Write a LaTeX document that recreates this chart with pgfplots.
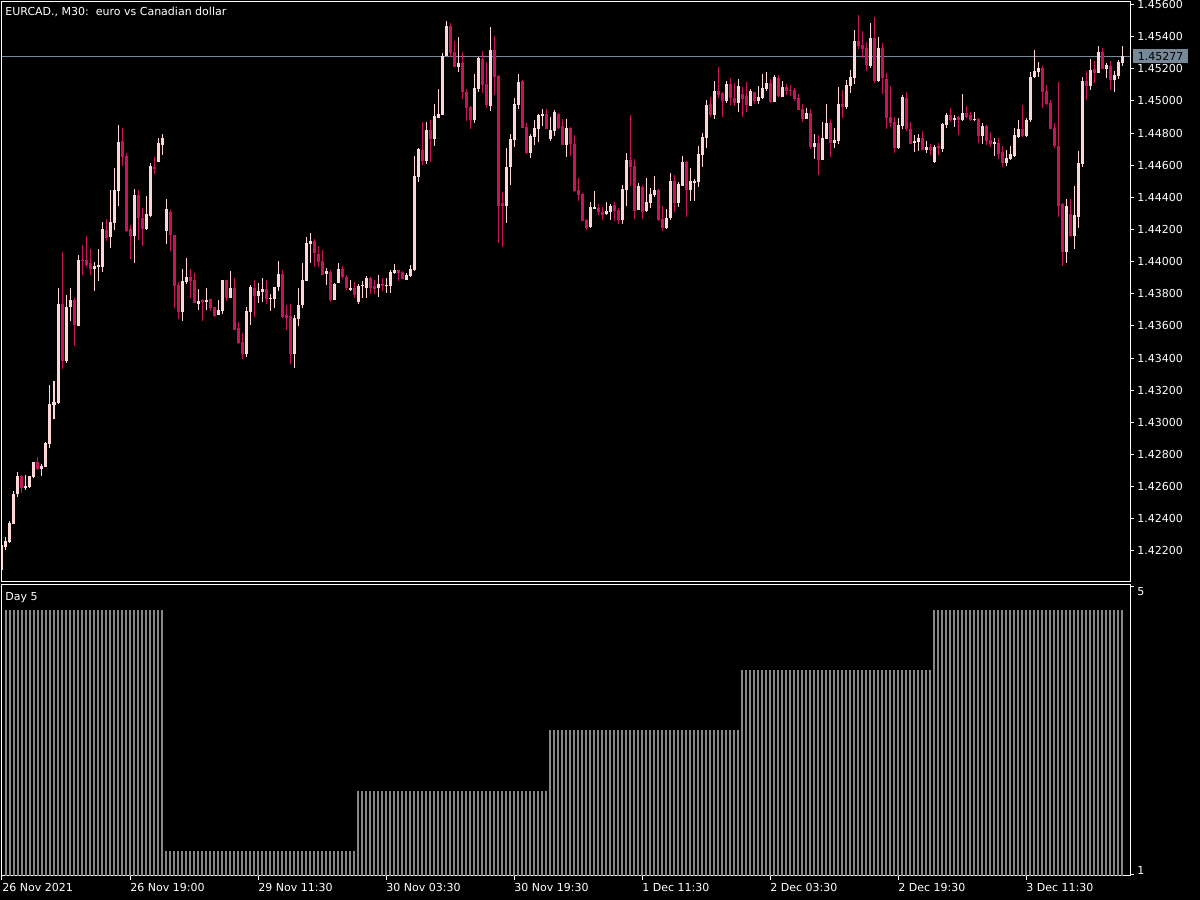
\documentclass[border=0pt]{standalone}
\usepackage{pgfplots}
\pgfplotsset{compat=1.18}
\usepackage{pgfplotstable}
\usepackage{fontspec}
\setmainfont{DejaVu Sans}
\definecolor{bull}{HTML}{FFD6D6}
\definecolor{bear}{HTML}{C8145A}
\definecolor{pline}{HTML}{778899}
\definecolor{hist}{HTML}{888888}

\pgfplotstableread{
i o h l c
-1 1.42082 1.42250 1.42069 1.42237
0 1.42225 1.42287 1.42206 1.42262
1 1.42256 1.42386 1.42250 1.42374
2 1.42368 1.42573 1.42368 1.42554
3 1.42554 1.42691 1.42536 1.42666
5 1.42592 1.42673 1.42579 1.42604
6 1.42598 1.42666 1.42592 1.42666
7 1.42660 1.42755 1.42654 1.42753
9 1.42710 1.42741 1.42666 1.42729
10 1.42722 1.42878 1.42722 1.42872
11 1.42865 1.43233 1.42841 1.43114
12 1.43110 1.43257 1.43021 1.43127
13 1.43121 1.43836 1.43114 1.43737
15 1.43382 1.43793 1.43369 1.43718
16 1.43718 1.43836 1.43631 1.43761
18 1.43600 1.44041 1.43600 1.44010
22 1.43956 1.43998 1.43817 1.43973
23 1.43967 1.44079 1.43880 1.43979
24 1.43967 1.44247 1.43936 1.44203
26 1.44153 1.44446 1.44085 1.44247
27 1.44241 1.44583 1.44197 1.44446
28 1.44440 1.44850 1.44346 1.44745
32 1.44160 1.44452 1.43992 1.44415
35 1.44203 1.44409 1.44197 1.44297
36 1.44284 1.44614 1.44278 1.44595
38 1.44620 1.44769 1.44620 1.44738
39 1.44726 1.44794 1.44664 1.44769
40 1.44191 1.44390 1.44110 1.44328
44 1.43687 1.43954 1.43631 1.43880
45 1.43873 1.44023 1.43861 1.43905
48 1.43737 1.43830 1.43699 1.43755
50 1.43749 1.43836 1.43699 1.43761
53 1.43668 1.43761 1.43668 1.43699
54 1.43693 1.43886 1.43674 1.43886
56 1.43774 1.43942 1.43774 1.43836
60 1.43425 1.43718 1.43407 1.43693
61 1.43687 1.43855 1.43606 1.43842
63 1.43786 1.43867 1.43743 1.43817
64 1.43811 1.43898 1.43749 1.43830
66 1.43768 1.43799 1.43693 1.43774
67 1.43768 1.43842 1.43712 1.43842
68 1.43842 1.44004 1.43817 1.43923
72 1.43425 1.43668 1.43338 1.43649
73 1.43643 1.43836 1.43600 1.43730
74 1.43730 1.43992 1.43712 1.43886
75 1.43880 1.44153 1.43880 1.44116
76 1.44110 1.44178 1.43992 1.44129
80 1.43923 1.43961 1.43855 1.43942
82 1.43761 1.43867 1.43761 1.43861
83 1.43867 1.43992 1.43867 1.43954
86 1.43824 1.43886 1.43817 1.43836
88 1.43749 1.43861 1.43737 1.43849
89 1.43849 1.43880 1.43774 1.43855
90 1.43836 1.43911 1.43774 1.43898
93 1.43836 1.43917 1.43780 1.43861
95 1.43849 1.43898 1.43805 1.43855
96 1.43849 1.43948 1.43805 1.43936
97 1.43929 1.43985 1.43923 1.43948
100 1.43886 1.43929 1.43886 1.43917
101 1.43911 1.43979 1.43905 1.43954
102 1.43948 1.44657 1.43942 1.44533
103 1.44527 1.44707 1.44496 1.44701
105 1.44626 1.44869 1.44608 1.44819
107 1.44763 1.44981 1.44720 1.44906
108 1.44894 1.45074 1.44894 1.44919
109 1.44913 1.45298 1.44913 1.45280
110 1.45280 1.45497 1.45280 1.45466
113 1.45211 1.45398 1.45180 1.45236
117 1.44881 1.45168 1.44863 1.45081
118 1.45074 1.45273 1.45056 1.45267
121 1.44969 1.45460 1.44937 1.45317
125 1.44346 1.44707 1.44241 1.44589
126 1.44589 1.44794 1.44477 1.44763
127 1.44757 1.45018 1.44713 1.44981
128 1.44975 1.45168 1.44950 1.45118
131 1.44676 1.44794 1.44645 1.44782
132 1.44776 1.44881 1.44726 1.44832
133 1.44825 1.44919 1.44745 1.44913
134 1.44906 1.44950 1.44844 1.44919
136 1.44763 1.44900 1.44751 1.44819
137 1.44813 1.44944 1.44782 1.44931
140 1.44726 1.44888 1.44651 1.44832
146 1.44216 1.44371 1.44209 1.44340
147 1.44328 1.44440 1.44328 1.44340
150 1.44297 1.44371 1.44290 1.44315
151 1.44309 1.44359 1.44259 1.44346
154 1.44259 1.44477 1.44234 1.44452
155 1.44446 1.44676 1.44346 1.44633
158 1.44321 1.44489 1.44321 1.44471
160 1.44315 1.44521 1.44309 1.44371
161 1.44365 1.44458 1.44334 1.44421
162 1.44415 1.44533 1.44402 1.44446
165 1.44209 1.44328 1.44203 1.44272
166 1.44272 1.44552 1.44259 1.44502
168 1.44365 1.44496 1.44340 1.44483
169 1.44471 1.44657 1.44471 1.44620
171 1.44446 1.44583 1.44377 1.44502
172 1.44489 1.44514 1.44377 1.44502
173 1.44496 1.44720 1.44465 1.44670
174 1.44664 1.44801 1.44589 1.44776
175 1.44769 1.45006 1.44707 1.44975
177 1.44913 1.45124 1.44888 1.45062
180 1.45000 1.45124 1.44987 1.45105
183 1.44987 1.45137 1.44931 1.45093
186 1.44969 1.45074 1.44969 1.45062
188 1.45000 1.45093 1.44981 1.45025
189 1.45018 1.45168 1.45012 1.45081
190 1.45074 1.45180 1.45062 1.45112
192 1.44993 1.45161 1.44993 1.45149
194 1.45025 1.45124 1.45025 1.45087
200 1.44888 1.44956 1.44888 1.44925
202 1.44713 1.44794 1.44639 1.44738
204 1.44633 1.44869 1.44633 1.44769
205 1.44763 1.44981 1.44763 1.44863
207 1.44738 1.44832 1.44707 1.44757
208 1.44751 1.45087 1.44732 1.44981
210 1.44962 1.45130 1.44950 1.45099
211 1.45093 1.45193 1.45049 1.45149
212 1.45143 1.45441 1.45105 1.45373
216 1.45217 1.45485 1.45205 1.45392
218 1.45124 1.45398 1.45118 1.45329
223 1.44707 1.44894 1.44701 1.44850
224 1.44844 1.45037 1.44825 1.45025
227 1.44738 1.44788 1.44682 1.44751
228 1.44745 1.44794 1.44689 1.44769
230 1.44695 1.44751 1.44676 1.44713
232 1.44620 1.44726 1.44614 1.44713
234 1.44701 1.44863 1.44682 1.44857
235 1.44850 1.44925 1.44832 1.44913
237 1.44881 1.44913 1.44838 1.44894
239 1.44881 1.45043 1.44875 1.44925
242 1.44881 1.44931 1.44875 1.44888
244 1.44782 1.44863 1.44732 1.44844
247 1.44732 1.44769 1.44657 1.44745
250 1.44614 1.44695 1.44595 1.44645
251 1.44639 1.44720 1.44633 1.44670
252 1.44657 1.44832 1.44651 1.44788
253 1.44776 1.44881 1.44769 1.44825
255 1.44782 1.44894 1.44776 1.44881
256 1.44881 1.45180 1.44869 1.45149
257 1.45149 1.45317 1.45143 1.45186
258 1.45180 1.45242 1.45149 1.45205
265 1.44060 1.44390 1.43992 1.44346
267 1.44160 1.44471 1.44079 1.44290
268 1.44278 1.44689 1.44209 1.44614
269 1.44608 1.45149 1.44589 1.45124
271 1.45093 1.45261 1.45068 1.45193
273 1.45174 1.45342 1.45174 1.45305
275 1.45199 1.45236 1.45143 1.45224
277 1.45130 1.45186 1.45056 1.45161
278 1.45155 1.45255 1.45137 1.45242
279 1.45236 1.45342 1.45217 1.45277
}\bulltab

\pgfplotstableread{
i o h l c
4 1.42666 1.42673 1.42561 1.42592
8 1.42753 1.42785 1.42704 1.42710
14 1.43737 1.44060 1.43332 1.43382
17 1.43761 1.43774 1.43475 1.43606
19 1.44010 1.44104 1.43917 1.44004
20 1.44010 1.44160 1.43967 1.43979
21 1.43992 1.44079 1.43917 1.43954
25 1.44197 1.44265 1.44129 1.44147
29 1.44751 1.44832 1.44595 1.44651
30 1.44657 1.44676 1.44185 1.44191
31 1.44203 1.44228 1.44017 1.44160
33 1.44415 1.44446 1.44135 1.44272
34 1.44272 1.44334 1.44097 1.44203
37 1.44589 1.44651 1.44545 1.44577
41 1.44309 1.44321 1.44066 1.44166
42 1.44166 1.44166 1.43712 1.43849
43 1.43855 1.43873 1.43643 1.43687
46 1.43905 1.43954 1.43774 1.43880
47 1.43886 1.43929 1.43743 1.43743
49 1.43761 1.43768 1.43631 1.43749
51 1.43768 1.43768 1.43693 1.43712
52 1.43718 1.43718 1.43656 1.43662
55 1.43886 1.43886 1.43755 1.43774
57 1.43836 1.43898 1.43575 1.43575
58 1.43587 1.43625 1.43488 1.43494
59 1.43500 1.43556 1.43394 1.43425
62 1.43836 1.43886 1.43656 1.43786
65 1.43830 1.43886 1.43737 1.43768
69 1.43923 1.43948 1.43649 1.43656
70 1.43668 1.43730 1.43575 1.43649
71 1.43662 1.43737 1.43363 1.43425
77 1.44129 1.44141 1.43967 1.44054
78 1.44048 1.44097 1.43967 1.43998
79 1.44004 1.44073 1.43917 1.43917
81 1.43936 1.43948 1.43749 1.43761
84 1.43954 1.43973 1.43892 1.43905
85 1.43905 1.43917 1.43824 1.43836
87 1.43836 1.43873 1.43774 1.43793
91 1.43898 1.43905 1.43799 1.43836
92 1.43849 1.43886 1.43799 1.43830
94 1.43861 1.43898 1.43817 1.43849
98 1.43948 1.43948 1.43880 1.43929
99 1.43936 1.43942 1.43892 1.43892
104 1.44695 1.44869 1.44601 1.44626
106 1.44819 1.44881 1.44620 1.44763
111 1.45466 1.45485 1.45273 1.45298
112 1.45305 1.45373 1.45211 1.45211
114 1.45236 1.45305 1.45012 1.45056
115 1.45056 1.45074 1.44875 1.44956
116 1.44962 1.44969 1.44825 1.44881
119 1.45261 1.45311 1.45049 1.45099
120 1.45105 1.45242 1.44956 1.44975
122 1.45317 1.45404 1.45037 1.45149
123 1.45155 1.45161 1.44116 1.44346
124 1.44365 1.44433 1.44091 1.44346
129 1.45124 1.45130 1.44832 1.44832
130 1.44838 1.44863 1.44670 1.44676
135 1.44919 1.44950 1.44825 1.44825
138 1.44919 1.44925 1.44825 1.44832
139 1.44844 1.44888 1.44726 1.44726
141 1.44832 1.44838 1.44657 1.44732
142 1.44732 1.44788 1.44433 1.44440
143 1.44446 1.44521 1.44377 1.44415
144 1.44421 1.44427 1.44253 1.44253
145 1.44259 1.44265 1.44197 1.44209
148 1.44334 1.44359 1.44290 1.44309
149 1.44309 1.44340 1.44259 1.44290
152 1.44353 1.44371 1.44253 1.44315
153 1.44321 1.44334 1.44234 1.44259
156 1.44633 1.44913 1.44471 1.44589
157 1.44595 1.44639 1.44265 1.44315
159 1.44465 1.44477 1.44265 1.44309
163 1.44446 1.44452 1.44253 1.44259
164 1.44265 1.44346 1.44191 1.44209
167 1.44502 1.44539 1.44309 1.44365
170 1.44620 1.44626 1.44278 1.44446
176 1.44981 1.45025 1.44900 1.44913
178 1.45062 1.45211 1.45018 1.45037
179 1.45049 1.45056 1.44900 1.45000
181 1.45105 1.45143 1.44975 1.45018
182 1.45018 1.45112 1.44969 1.44987
184 1.45043 1.45087 1.44900 1.45012
185 1.45031 1.45118 1.44931 1.44975
187 1.45056 1.45056 1.44981 1.45000
191 1.45112 1.45137 1.44987 1.44993
193 1.45143 1.45161 1.45025 1.45031
195 1.45087 1.45105 1.45037 1.45062
196 1.45068 1.45099 1.45031 1.45062
197 1.45068 1.45081 1.45000 1.45012
198 1.45018 1.45043 1.44944 1.44944
199 1.44950 1.44981 1.44869 1.44888
201 1.44925 1.44950 1.44701 1.44713
203 1.44738 1.44788 1.44539 1.44633
206 1.44863 1.44888 1.44651 1.44738
209 1.44981 1.45068 1.44894 1.44962
213 1.45373 1.45535 1.45323 1.45342
214 1.45348 1.45435 1.45267 1.45323
215 1.45329 1.45367 1.45186 1.45224
217 1.45392 1.45522 1.45112 1.45124
219 1.45329 1.45361 1.45043 1.45143
220 1.45137 1.45174 1.44825 1.44894
221 1.44900 1.45093 1.44838 1.44863
222 1.44869 1.44900 1.44676 1.44707
225 1.45018 1.45056 1.44813 1.44825
226 1.44825 1.44869 1.44732 1.44732
229 1.44769 1.44813 1.44695 1.44695
231 1.44713 1.44732 1.44664 1.44695
233 1.44720 1.44738 1.44664 1.44707
236 1.44913 1.44956 1.44869 1.44881
238 1.44900 1.44906 1.44788 1.44881
240 1.44925 1.44969 1.44894 1.44900
241 1.44913 1.44931 1.44875 1.44881
243 1.44888 1.44894 1.44738 1.44782
245 1.44844 1.44850 1.44726 1.44751
246 1.44757 1.44807 1.44713 1.44732
248 1.44738 1.44769 1.44639 1.44670
249 1.44682 1.44720 1.44589 1.44614
254 1.44825 1.44975 1.44776 1.44782
259 1.45205 1.45217 1.44956 1.45056
260 1.45062 1.45099 1.44975 1.44981
261 1.44987 1.45006 1.44825 1.44825
262 1.44832 1.44863 1.44707 1.44720
263 1.44720 1.45118 1.44278 1.44346
264 1.44359 1.44365 1.43973 1.44060
266 1.44297 1.44390 1.44153 1.44160
270 1.45124 1.45186 1.45006 1.45093
272 1.45199 1.45249 1.45112 1.45174
274 1.45305 1.45329 1.45199 1.45199
276 1.45217 1.45249 1.45068 1.45130
}\beartab

\pgfplotsset{
  mtaxis/.style={
    scale only axis, width=564pt,
    xmin=-1, xmax=281,
    axis line style={white, line width=0.5pt},
    tick style={white, line width=0.5pt},
    major tick length=2pt,
    tick align=outside,
    ytick pos=right, yticklabel pos=right,
    ticklabel style={text=white, font=\fontsize{5.5}{6.6}\selectfont},
    yticklabel style={anchor=west, inner sep=0pt, xshift=1.5pt},
    scaled y ticks=false,
  },
  wick/.style={draw=none, mark=none, forget plot,
    error bars/.cd, y dir=minus, y explicit, error mark=none,
    error bar style={draw=#1, line width=0.5pt}},
  body/.style={draw=none, mark=none, forget plot,
    error bars/.cd, y dir=minus, y explicit, error mark=none,
    error bar style={draw=#1, line width=1.5pt}},
}

\begin{document}
\begin{tikzpicture}
\path[use as bounding box] (0pt,0pt) rectangle (600pt,450pt);
\fill[black] (0pt,0pt) rectangle (600pt,450pt);

\begin{axis}[mtaxis,
  at={(1pt,159pt)}, anchor=south west, height=290pt,
  ymin=1.42007, ymax=1.45616,
  clip mode=individual,
  xtick=\empty,
  ytick={1.422,1.424,1.426,1.428,1.430,1.432,1.434,1.436,1.438,1.440,1.442,1.444,1.446,1.448,1.450,1.452,1.454,1.456},
  yticklabel style={/pgf/number format/.cd, fixed, fixed zerofill, precision=5, assume math mode=true},
]
\addplot[pline, line width=0.5pt, forget plot] coordinates {(-1,1.45277) (281,1.45277)};
\addplot[wick=bull] table[x=i, y=h, y error minus expr=\thisrow{h}-\thisrow{l}] {\bulltab};
\addplot[body=bull] table[x=i, y=c, y error minus expr=\thisrow{c}-\thisrow{o}] {\bulltab};
\addplot[wick=bear] table[x=i, y=h, y error minus expr=\thisrow{h}-\thisrow{l}] {\beartab};
\addplot[body=bear] table[x=i, y=o, y error minus expr=\thisrow{o}-\thisrow{c}] {\beartab};
\node[fill=pline, text=black, anchor=west, inner xsep=2.2pt, inner ysep=0pt, minimum height=7pt,
  font=\fontsize{5.5}{6.6}\selectfont, xshift=1.5pt] at (axis cs:281,1.45277) {1.45277};
\end{axis}

\begin{axis}[mtaxis,
  at={(1pt,12pt)}, anchor=south west, height=145.5pt,
  ymin=0.581, ymax=5.411,
  ytick={0.598,5.383}, yticklabels={},
  extra y ticks={0.680,5.295}, extra y tick labels={1,5},
  extra y tick style={major tick length=0pt, yticklabel style={xshift=2pt}},
  xtick pos=left,
  xtick={-1,31,63,95,127,159,191,223,255},
  xticklabels={26 Nov 2021,26 Nov 19:00,29 Nov 11:30,30 Nov 03:30,30 Nov 19:30,1 Dec 11:30,2 Dec 03:30,2 Dec 19:30,3 Dec 11:30},
  xticklabel style={anchor=north west, inner sep=0pt, yshift=-1.5pt},
]
\addplot[ycomb, draw=hist, line width=1pt, mark=none] coordinates {
(0,5)(1,5)(2,5)(3,5)(4,5)(5,5)(6,5)(7,5)(8,5)(9,5)
(10,5)(11,5)(12,5)(13,5)(14,5)(15,5)(16,5)(17,5)(18,5)(19,5)
(20,5)(21,5)(22,5)(23,5)(24,5)(25,5)(26,5)(27,5)(28,5)(29,5)
(30,5)(31,5)(32,5)(33,5)(34,5)(35,5)(36,5)(37,5)(38,5)(39,5)
(40,1)(41,1)(42,1)(43,1)(44,1)(45,1)(46,1)(47,1)(48,1)(49,1)
(50,1)(51,1)(52,1)(53,1)(54,1)(55,1)(56,1)(57,1)(58,1)(59,1)
(60,1)(61,1)(62,1)(63,1)(64,1)(65,1)(66,1)(67,1)(68,1)(69,1)
(70,1)(71,1)(72,1)(73,1)(74,1)(75,1)(76,1)(77,1)(78,1)(79,1)
(80,1)(81,1)(82,1)(83,1)(84,1)(85,1)(86,1)(87,1)
(88,2)(89,2)(90,2)(91,2)(92,2)(93,2)(94,2)(95,2)(96,2)(97,2)
(98,2)(99,2)(100,2)(101,2)(102,2)(103,2)(104,2)(105,2)(106,2)(107,2)
(108,2)(109,2)(110,2)(111,2)(112,2)(113,2)(114,2)(115,2)(116,2)(117,2)
(118,2)(119,2)(120,2)(121,2)(122,2)(123,2)(124,2)(125,2)(126,2)(127,2)
(128,2)(129,2)(130,2)(131,2)(132,2)(133,2)(134,2)(135,2)
(136,3)(137,3)(138,3)(139,3)(140,3)(141,3)(142,3)(143,3)(144,3)(145,3)
(146,3)(147,3)(148,3)(149,3)(150,3)(151,3)(152,3)(153,3)(154,3)(155,3)
(156,3)(157,3)(158,3)(159,3)(160,3)(161,3)(162,3)(163,3)(164,3)(165,3)
(166,3)(167,3)(168,3)(169,3)(170,3)(171,3)(172,3)(173,3)(174,3)(175,3)
(176,3)(177,3)(178,3)(179,3)(180,3)(181,3)(182,3)(183,3)
(184,4)(185,4)(186,4)(187,4)(188,4)(189,4)(190,4)(191,4)(192,4)(193,4)
(194,4)(195,4)(196,4)(197,4)(198,4)(199,4)(200,4)(201,4)(202,4)(203,4)
(204,4)(205,4)(206,4)(207,4)(208,4)(209,4)(210,4)(211,4)(212,4)(213,4)
(214,4)(215,4)(216,4)(217,4)(218,4)(219,4)(220,4)(221,4)(222,4)(223,4)
(224,4)(225,4)(226,4)(227,4)(228,4)(229,4)(230,4)(231,4)
(232,5)(233,5)(234,5)(235,5)(236,5)(237,5)(238,5)(239,5)(240,5)(241,5)
(242,5)(243,5)(244,5)(245,5)(246,5)(247,5)(248,5)(249,5)(250,5)(251,5)
(252,5)(253,5)(254,5)(255,5)(256,5)(257,5)(258,5)(259,5)(260,5)(261,5)
(262,5)(263,5)(264,5)(265,5)(266,5)(267,5)(268,5)(269,5)(270,5)(271,5)
(272,5)(273,5)(274,5)(275,5)(276,5)(277,5)(278,5)(279,5)
};
\end{axis}

\node[anchor=base west, text=white, inner sep=0pt, font=\fontsize{5.5}{6.6}\selectfont]
  at (2.5pt,442pt) {EURCAD., M30:~~euro vs Canadian dollar};
\node[anchor=base west, text=white, inner sep=0pt, font=\fontsize{5.5}{6.6}\selectfont]
  at (2.5pt,149.5pt) {Day 5};
\end{tikzpicture}
\end{document}
